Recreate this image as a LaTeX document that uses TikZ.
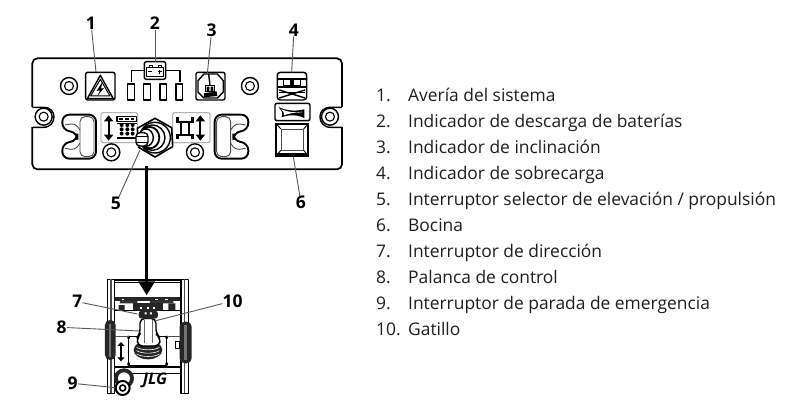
\documentclass[tikz,border=0pt]{standalone}
\usepackage{fontspec}
\setmainfont{Open Sans}
\usetikzlibrary{arrows.meta}
\tikzset{
  num/.style={font=\fontsize{17.5}{20}\selectfont\bfseries,inner sep=0pt,text=black},
  item/.style={font=\fontsize{17.4}{20}\selectfont,inner sep=0pt,anchor=base west,text=black!88},
  lead/.style={draw=black!65,line width=0.9pt},
  ink/.style={draw=black,line width=1.4pt,line join=round},
  thin ink/.style={draw=black,line width=0.9pt,line join=round},
  pale/.style={draw=black!45,line width=0.8pt,rounded corners=1.5pt},
  dblarrow/.style={draw=black,line width=1.9pt,{Triangle[width=9pt,length=6pt]}-{Triangle[width=9pt,length=6pt]}},
}
\newcommand{\screw}[2]{%
  \draw[ink] (#1,#2) circle[radius=8.5pt];
  \draw[thin ink,line width=1.1pt] (#1,#2) circle[radius=4.5pt];}
\newcommand{\handle}{%
  \draw[draw=black,line width=1.9pt,rounded corners=7pt] (-278,314) -- (-177,314) -- (-177,446) -- (-278,446) -- (-278,400) -- (-233,392) -- (-233,368) -- (-278,360) -- cycle;
  \draw[thin ink,draw=black!70,rounded corners=5pt] (-225,320) rectangle (-183,440);
  \draw[thin ink,draw=black!70,rounded corners=4pt] (-270,345) -- (-240,340) -- (-225,360);
  \draw[thin ink,draw=black!70,rounded corners=4pt] (-270,415) -- (-240,420) -- (-225,400);}
\begin{document}
\begin{tikzpicture}[x=1pt,y=-1pt]
\useasboundingbox[fill=white] (0,0) rectangle (800,410);
% ---------- upper panel ----------
\begin{scope}[shift={(20,10)},x=0.3333pt,y=-0.3333pt]
  \draw[draw=black,line width=1.7pt,rounded corners=5pt] (37,145) rectangle (966,478);
  % ears
  \fill[white] (30,292) rectangle (44,352);
  \fill[white] (958,292) rectangle (975,352);
  \draw[ink] (37,292) -- (70,292) .. controls (92,292) and (102,306) .. (102,320) .. controls (102,336) and (92,352) .. (70,352) -- (37,352);
  \draw[ink] (966,292) -- (932,292) .. controls (910,292) and (900,306) .. (900,320) .. controls (900,336) and (910,352) .. (932,352) -- (966,352);
  \screw{71}{320}\screw{930}{320}
  \screw{147}{228}\screw{690}{228}\screw{274}{427}\screw{525}{427}
  % icon 1
  \draw[ink,rounded corners=2pt] (197,187) rectangle (285,270);
  \draw[ink] (241,196) -- (280,266) -- (202,266) -- cycle;
  \draw[ink,line width=1pt] (212,258) -- (241,208) -- (270,258) -- cycle;
  \fill (248,214) -- (230,243) -- (240,241) -- (232,258) -- (252,234) -- (243,236) -- cycle;
  % icon 2
  \draw[ink] (335,215) -- (335,182) -- (480,182) -- (480,215);
  \draw[ink,fill=white,rounded corners=2pt] (373,155) rectangle (437,208);
  \draw[thin ink] (380,172) rectangle (430,198);
  \draw[thin ink] (387,172) -- (387,166) -- (397,166) -- (397,172) (414,172) -- (414,166) -- (424,166) -- (424,172);
  \draw[thin ink,line width=1.2pt] (385,185) -- (397,185) (413,185) -- (425,185) (419,179) -- (419,191);
  \foreach \xx in {323,371,420,468}
    \draw[ink,line width=1.1pt] (\xx,222) rectangle ++(20,48);
  % icon 3
  \draw[ink,rounded corners=2pt] (528,187) rectangle (615,270);
  \draw[ink] (552,192) -- (592,192) -- (610,212) -- (610,246) -- (592,264) -- (552,264) -- (534,246) -- (534,212) -- cycle;
  \draw[ink] (566,192) -- (570,225);
  \draw[thin ink,fill=white] (556,225) rectangle (584,245);
  \fill (560,230) rectangle (568,245) (572,230) rectangle (580,245);
  \fill (552,250) -- (590,244) -- (592,258) -- (552,262) -- cycle;
  % icon 4
  \draw[ink,rounded corners=3pt] (772,187) rectangle (860,270);
  \draw[ink] (772,207) -- (860,207);
  \draw[thin ink] (790,207) -- (790,225) -- (842,225) -- (842,207);
  \fill (810,207) rectangle (822,224);
  \draw[ink,line width=1.7pt] (775,232) -- (857,232);
  \draw[ink] (778,240) -- (855,264) (778,264) -- (855,240);
  \draw[thin ink] (778,247) -- (855,247);
  % horn
  \draw[ink,rounded corners=2pt] (765,280) rectangle (870,332);
  \fill (775,291) .. controls (795,300) and (820,306) .. (853,298) -- (853,324) .. controls (830,312) and (800,315) .. (785,322) .. controls (790,310) and (785,300) .. (775,291) -- cycle;
  \fill[white] (783,298) .. controls (805,306) and (825,310) .. (846,305) -- (846,307) .. controls (825,308) and (805,310) .. (792,316) .. controls (794,309) and (790,303) .. (783,298) -- cycle;
  % button
  \draw[draw=black,line width=1.9pt] (768,341) rectangle (865,437);
  \draw[thin ink,draw=black!70] (783,357) rectangle (851,421);
  \foreach \xa/\ya/\xb/\yb in {768/341/783/357,865/341/851/357,768/437/783/421,865/437/851/421}
    \draw[thin ink] (\xa,\ya) -- (\xb,\yb);
  \fill (768,428) rectangle (865,437);
  % handles
  \begin{scope}[shift={(405,0)}]\handle\end{scope}
  \begin{scope}[shift={(407,0)},xscale=-1]\handle\end{scope}
  % switch plates
  \draw[pale] (243,308) rectangle (353,398);
  \draw[pale] (458,308) rectangle (570,398);
  % up/down arrows
  \draw[dblarrow] (266,316) -- (266,392);
  \draw[dblarrow] (541,316) -- (541,392);
  % scissor symbol
  \draw[thin ink,line width=1.2pt] (291,320) rectangle (350,335);
  \foreach \xx in {298,315,332} \fill (\xx,323) rectangle ++(11,8);
  \foreach \yy in {345,358,371} \foreach \xx in {305,322,338} \fill (\xx,\yy) circle[radius=6];
  \draw[thin ink] (292,339) -- (350,339);
  \fill (292,380) rectangle (350,388);
  % wheel symbol
  \draw[ink,line width=1.7pt] (482,335) -- (482,375) (508,335) -- (508,375) (475,335) -- (515,335) (475,375) -- (515,375);
  \foreach \xx/\yy in {468/322,512/322,468/372,512/372} \fill (\xx,\yy) rectangle ++(10,16);
  % toggle
  \draw[draw=black,line width=1.6pt,fill=white] (405,325) -- (455,353) -- (458,410) -- (405,441) -- (356,412) -- (352,355) -- cycle;
  \draw[ink,fill=white] (405,383) circle[radius=46];
  \draw[ink,fill=white] (397,383) circle[radius=38];
  \draw[draw=black,line width=1.8pt,fill=white] (390,383) ellipse[x radius=28,y radius=32];
  \draw[ink,fill=white] (378,383) ellipse[x radius=22,y radius=26];
  \draw[ink,fill=white,rounded corners=4pt] (348,368) rectangle (384,408);
  \draw[thin ink] (348,380) -- (384,380) (348,396) -- (384,396);
  % leader targets
  \coordinate (t1) at (228,186);
  \coordinate (t2) at (405,155);
  \coordinate (t3) at (562,192);
  \coordinate (t4) at (815,187);
  \coordinate (t5) at (360,420);
  \coordinate (t6) at (820,440);
  % labels
  \node[num] (n1) at (213,40) {1};
  \node[num] (n2) at (405,40) {2};
  \node[num] (n3) at (575,62) {3};
  \node[num] (n4) at (822,60) {4};
  \node[num] (n5) at (288,580) {5};
  \node[num] (n6) at (843,578) {6};
  \foreach \i in {1,...,6}
    \draw[lead] (n\i) -- (t\i);
  \coordinate (arrowtop) at (380,468);
\end{scope}
% ---------- lower control box ----------
\begin{scope}[shift={(50,250)},x=0.3333pt,y=-0.3333pt]
  % frame
  \foreach \xx in {172,393} {
    \draw[ink,fill=white] (\xx,88) rectangle ++(22,342);
    \draw[ink,draw=black!70] (\xx+11,88) -- (\xx+11,430);
  }
  \draw[ink] (194,90) -- (393,90);
  \draw[thin ink] (194,97) -- (393,97);
  % grips
  \fill[black!85,rounded corners=5pt] (165,210) rectangle (197,330);
  \fill[black!85,rounded corners=5pt] (389,215) rectangle (425,340);
  \fill[black!55] (177,222) rectangle (184,320);
  \fill[black!55] (402,226) rectangle (410,330);
  % dark band
  \fill[black!85] (196,142) rectangle (390,152);
  \fill[black!80] (210,152) rectangle (262,160) (300,152) rectangle (370,160);
  \fill[black!85] (250,160) rectangle (340,182);
  \fill[black!85] (206,165) rectangle (224,180) (355,160) rectangle (376,180);
  \draw[thin ink] (196,182) -- (260,182) (330,182) -- (390,182);
  \foreach \xx in {215,315,345} \fill[white] (\xx,146) rectangle ++(8,4);
  \foreach \xx in {270,290,310} \fill[white] (\xx,170) rectangle ++(6,6);
  % lower plate
  \draw[thin ink] (236,258) rectangle (350,345);
  \fill (232,258) rectangle ++(8,8) (346,258) rectangle ++(8,8) (232,338) rectangle ++(8,8) (346,338) rectangle ++(8,8);
  \draw[thin ink,draw=black!70] (196,258) -- (236,258) (350,258) -- (390,258);
  \draw[thin ink] (375,275) rectangle (388,295);
  \draw[draw=black,line width=1.6pt,{Triangle[width=7pt,length=4pt]}-{Triangle[width=7pt,length=4pt]}] (213,276) -- (213,334);
  % bellows
  \fill[black!85] (294,300) ellipse[x radius=43,y radius=28];
  \foreach \yy in {292,302,312}
    \draw[draw=white,line width=0.6pt] (260,\yy) .. controls (275,\yy+10) and (315,\yy+10) .. (328,\yy);
  % handle
  \draw[ink,fill=white,rounded corners=5pt] (262,288) -- (262,262) -- (270,252) -- (270,205) -- (318,205) -- (318,252) -- (330,262) -- (330,288) -- cycle;
  \draw[thin ink,draw=black!60] (282,210) -- (282,280) (306,210) -- (306,280);
  \fill[black!85,rounded corners=3pt] (266,182) rectangle (324,206);
  \fill[white] (284,187) rectangle (290,193) (300,187) rectangle (306,193);
  % bottom bars
  \draw[ink] (194,351) -- (393,351);
  \draw[thin ink] (194,371) -- (393,371);
  % e-stop
  \fill[black!85] (222,385) circle[radius=30];
  \fill[white] (222,385) circle[radius=18];
  \draw[draw=black,line width=2pt,fill=white] (218,414) circle[radius=21];
  \draw[draw=black,line width=1.6pt,fill=white] (218,414) circle[radius=9];
  \node[inner sep=0pt,font=\fontsize{16}{16}\selectfont\bfseries\itshape] (jlg) at (315,391) {JLG};
  % leader targets
  \coordinate (t7) at (262,192);
  \coordinate (t8) at (268,243);
  \coordinate (t9) at (196,413);
  \coordinate (t10) at (318,212);
  \node[num] (n7) at (82,155) {7};
  \node[num] (n8) at (35,232) {8};
  \node[num] (n9) at (68,400) {9};
  \node[num] (n10) at (548,153) {10};
  \foreach \i in {7,...,10}
    \draw[lead] (n\i) -- (t\i);
  \coordinate (arrowtip) at (291,136);
\end{scope}
% ---------- main arrow ----------
\draw[line width=3.2pt,-{Triangle[width=16pt,length=14pt]}] (arrowtop) -- (arrowtop |- arrowtip);
% ---------- list ----------
\foreach \i/\yy/\tx in {1/101/{Avería del sistema},2/127.1/{Indicador de descarga de baterías},3/153.2/{Indicador de inclinación},4/179.3/{Indicador de sobrecarga},5/205.4/{Interruptor selector de elevación / propulsión},6/231.5/{Bocina},7/257.6/{Interruptor de dirección},8/283.7/{Palanca de control},9/309.8/{Interruptor de parada de emergencia},10/335.9/{Gatillo}} {
  \node[item] (num\i) at (376,\yy) {\i.};
  \node[item] (txt\i) at (408,\yy) {\tx};
}
\end{tikzpicture}
\end{document}
